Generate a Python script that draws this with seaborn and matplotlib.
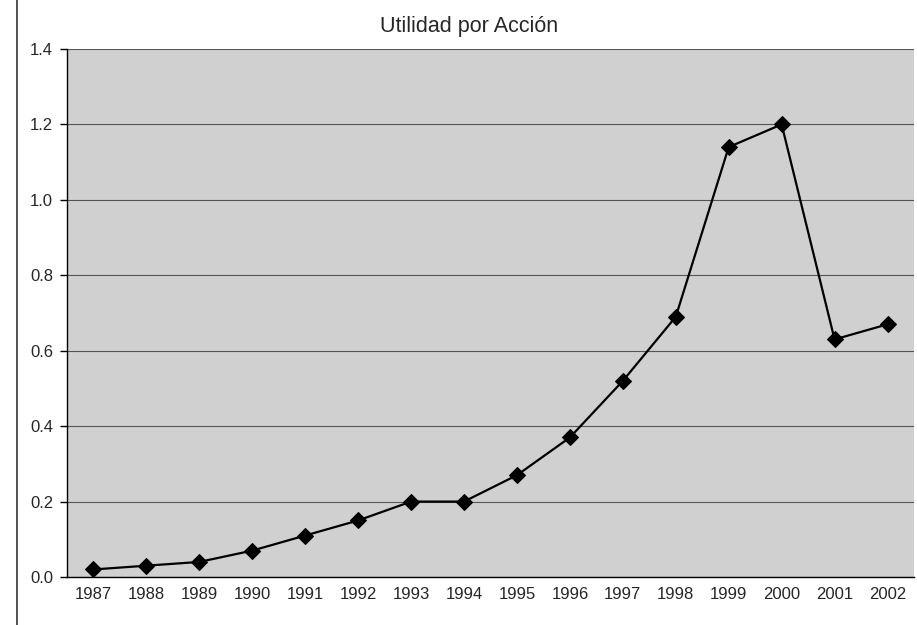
import numpy as np
import pandas as pd
import matplotlib
matplotlib.use("Agg")
import matplotlib.pyplot as plt
import seaborn as sns

years = ["1987", "1988", "1989", "1990", "1991", "1992", "1993", "1994",
         "1995", "1996", "1997", "1998", "1999", "2000", "2001", "2002"]
eps = [0.02, 0.03, 0.04, 0.07, 0.11, 0.15, 0.20, 0.20,
       0.27, 0.37, 0.52, 0.69, 1.14, 1.20, 0.63, 0.67]
y_ticks = [0.0, 0.2, 0.4, 0.6, 0.8, 1.0, 1.2, 1.4]

sns.set_theme(style="white")
plt.rcParams["font.family"] = ["Liberation Sans", "DejaVu Sans"]

df = pd.DataFrame({"pos": np.arange(len(years)), "eps": eps})

fig = plt.figure(figsize=(9.17, 6.25), dpi=100)
ax = fig.add_axes([0.0731, 0.0768, 0.9236, 0.8448])
ax.set_facecolor("#d0d0d0")

# frame line along the left edge of the figure
fig.add_artist(plt.Line2D([0.0185, 0.0185], [0, 1], transform=fig.transFigure,
                          color="#333333", lw=1.2))

sns.lineplot(data=df, x="pos", y="eps", ax=ax, color="black", lw=1.6,
             marker="D", markersize=8.5, markeredgecolor="black",
             markerfacecolor="black")

ax.set_xlim(-0.5, len(years) - 0.5)
ax.set_ylim(0, 1.4)
ax.set_yticks(y_ticks)
ax.set_yticklabels([f"{v:.1f}" for v in y_ticks], fontsize=12)
ax.set_xticks(np.arange(len(years)))
ax.set_xticklabels(years, fontsize=12)
ax.set_xticks(np.arange(len(years) + 1) - 0.5, minor=True)
ax.tick_params(axis="x", which="major", length=0, pad=7)
ax.tick_params(axis="x", which="minor", length=5, width=1, color="black",
               direction="out")
ax.tick_params(axis="y", length=5, width=1, color="black", direction="out",
               pad=5, left=True)
ax.set_xlabel("")
ax.set_ylabel("")

ax.grid(axis="y", color="#555555", lw=0.8)
ax.grid(axis="x", visible=False)
ax.set_axisbelow(True)
for side in ["top", "right"]:
    ax.spines[side].set_visible(False)
for side in ["left", "bottom"]:
    ax.spines[side].set_color("black")
    ax.spines[side].set_linewidth(1.0)

ax.set_title("Utilidad por Acción", fontsize=15.5, pad=12, x=0.475)

fig.savefig("out.png", dpi=100)
